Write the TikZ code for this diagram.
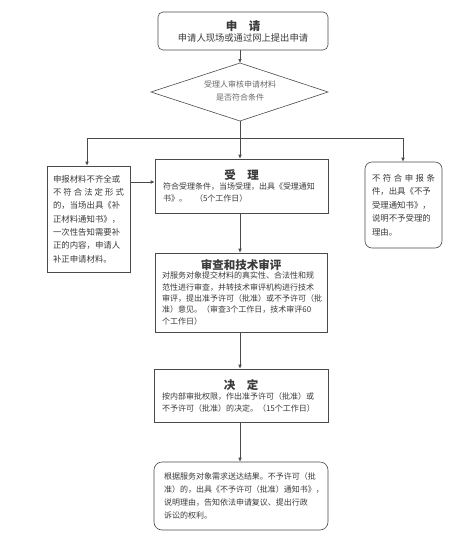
\documentclass[tikz,border=0pt]{standalone}
\usepackage{fontspec}
\setmainfont{Noto Sans CJK SC}
\usetikzlibrary{arrows.meta}
\definecolor{linec}{HTML}{4A4A4A}
\definecolor{txt}{HTML}{3A3A3A}
\definecolor{dtxt}{HTML}{6A6A6A}
\newcommand{\ttl}{\fontsize{11.5}{14}\bfseries}
\newcommand{\bodyf}{\fontsize{8}{12}\selectfont}
\begin{document}
\begin{tikzpicture}[x=1pt,y=-1pt,
  box/.style={draw=linec, line width=0.6pt, fill=white, inner sep=0pt, align=left, text=txt},
  arr/.style={draw=linec, line width=0.6pt, -{Latex[length=4pt,width=3.5pt]}},
  ln/.style={draw=linec, line width=0.6pt}]
\useasboundingbox[fill=white] (0,0) rectangle (474,555);

% 1 apply
\node[box, rounded corners=5pt, minimum width=170pt, minimum height=38pt, align=center] (apply) at (243,31)
 {{\ttl 申\quad 请}\\[-1pt]{\fontsize{9.3}{12}\selectfont 申请人现场或通过网上提出申请}};

% diamond
\coordinate (dt) at (240,63);
\coordinate (dl) at (151,92);
\coordinate (dr) at (328,92);
\coordinate (db) at (240,121);
\draw[ln] (dl) -- (dt) -- (dr) -- (db) -- cycle;
\node[align=center, text=dtxt, font=\fontsize{8}{13}\selectfont] (check) at (240,91) {受理人审核申请材料\\是否符合条件};

\draw[arr] (dt |- apply.south) -- (dt);

% accept box
\node[box, minimum width=173pt, minimum height=54pt, text width=157pt] (accept) at (241.5,186)
 {\makebox[\linewidth][c]{\ttl 受\quad 理}\\[-2pt]
  \bodyf 符合受理条件，当场受理，出具《受理通知\\
  \bodyf 书》。\quad （5个工作日）};

% left box
\node[box, minimum width=83pt, minimum height=106pt, text width=71pt, font=\fontsize{8.4}{13.3}\selectfont] (left) at (88.5,219)
 {申报材料不齐全或\\
  \makebox[\linewidth][s]{不\hfill 符\hfill 合\hfill 法\hfill 定\hfill 形\hfill 式}\\
  的，当场出具《补\\
  正材料通知书》，\\
  一次性告知需要补\\
  正的内容，申请人\\
  补正申请材料。};

% right box
\node[box, rounded corners=7pt, minimum width=77pt, minimum height=86pt, text width=63pt, font=\fontsize{8.4}{13.5}\selectfont] (right) at (403.5,205)
 {\makebox[\linewidth][s]{不\hfill 符\hfill 合\hfill 申\hfill 报\hfill 条}\\
  件，出具《不予\\
  受理通知书》，\\
  说明不予受理的\\
  理由。};

% junction lines
\coordinate (j) at (240,138);
\coordinate (jl) at (87,138);
\coordinate (jr) at (403,138);
\draw[ln] (db) -- (j);
\draw[ln] (jl) -- (jr);
\draw[arr] (j) -- (j |- accept.north);
\draw[arr] (jl) -- (jl |- left.north);
\draw[arr] (jr) -- (jr |- right.north);
\coordinate (la) at (0,182);
\draw[arr] (left.east |- la) -- (accept.west |- la);

% review box
\node[box, minimum width=172pt, minimum height=79pt, text width=158pt] (review) at (241,292.5)
 {\makebox[\linewidth][c]{\ttl 审查和技术审评}\\[-2pt]
  \fontsize{8}{11.2}\selectfont
  对服务对象提交材料的真实性、合法性和规\\
  范性进行审查，并转技术审评机构进行技术\\
  审评，提出准予许可（批准）或不予许可（批\\
  准）意见。（审查3个工作日，技术审评60\\
  个工作日）};

% decide box
\node[box, minimum width=174pt, minimum height=53pt, text width=158pt] (decide) at (241,395.5)
 {\makebox[\linewidth][c]{\ttl 决\quad 定}\\[-2pt]
  \bodyf 按内部审批权限，作出准予许可（批准）或\\
  \bodyf 不予许可（批准）的决定。（15个工作日）};

% final box
\node[box, rounded corners=8pt, minimum width=174pt, minimum height=68pt, text width=154pt, font=\fontsize{8}{12.8}\selectfont] (final) at (241,496)
 {根据服务对象需求送达结果。不予许可（批\\
  准）的，出具《不予许可（批准）通知书》，\\
  说明理由，告知依法申请复议、提出行政\\
  诉讼的权利。};

\draw[arr] (accept.south -| j) -- (review.north -| j);
\draw[arr] (review.south -| j) -- (decide.north -| j);
\draw[arr] (decide.south -| j) -- (final.north -| j);
\end{tikzpicture}
\end{document}
